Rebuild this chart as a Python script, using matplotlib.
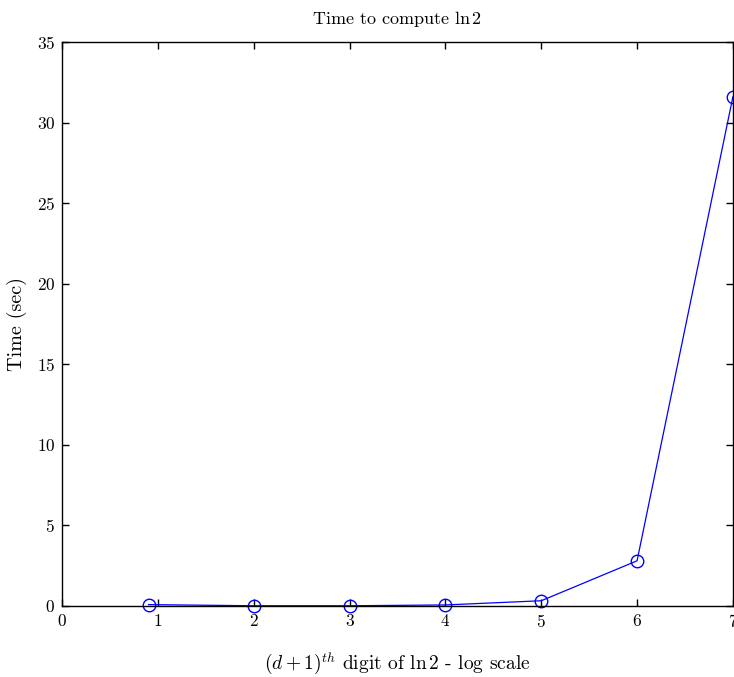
import matplotlib
matplotlib.use("Agg")
import matplotlib.pyplot as plt

# log10 of digit position and compute time in seconds
digit_log = [0.903, 2, 3, 4, 5, 6, 7]
time_sec = [0.08, 0.01, 0.01, 0.06, 0.32, 2.8, 31.6]

plt.rcParams["font.family"] = "serif"
plt.rcParams["font.serif"] = ["cmr10", "DejaVu Serif"]
plt.rcParams["mathtext.fontset"] = "cm"
plt.rcParams["axes.formatter.use_mathtext"] = True

fig = plt.figure(figsize=(7.34, 6.77), dpi=100)
ax = fig.add_axes([0.0845, 0.105, 0.914, 0.833])

ax.plot(digit_log, time_sec, color="blue", linewidth=0.9, marker="o",
        markersize=9, markerfacecolor="none", markeredgecolor="blue",
        markeredgewidth=1.0, clip_on=False)

ax.set_xlim(0, 7)
ax.set_ylim(0, 35)
ax.set_xticks(range(0, 8))
ax.set_yticks(range(0, 36, 5))
ax.tick_params(direction="in", top=True, right=True, length=5, width=1,
               labelsize=12.5, pad=5)
for s in ax.spines.values():
    s.set_linewidth(1)

ax.set_title(r"Time to compute $\ln 2$", fontsize=13, pad=13)
ax.set_xlabel(r"$(d+1)^{th}$ digit of $\ln 2$ - log scale", fontsize=14, labelpad=15)
ax.set_ylabel("Time (sec)", fontsize=14.5, labelpad=7)

fig.savefig("out.png", dpi=100)
